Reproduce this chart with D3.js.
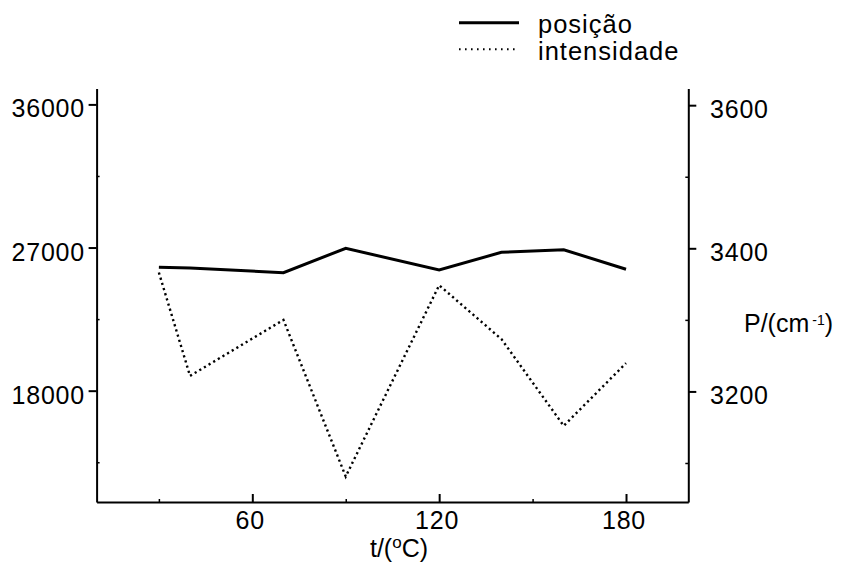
<!DOCTYPE html>
<html>
<head>
<meta charset="utf-8">
<script src="https://cdn.jsdelivr.net/npm/d3@7"></script>
<style>
  html, body { margin: 0; padding: 0; background: #fff; }
  svg { display: block; font-family: "Liberation Sans", Arial, Helvetica, sans-serif; }
</style>
</head>
<body>
<svg id="chart" width="845" height="567"></svg>
<script>
// Temperature (°C) of each measurement
const temperatures = [30, 40, 70, 90, 120, 140, 160, 180];
// Band position, cm^-1 (right axis)
const posicao = [3373.5, 3372.5, 3366, 3400, 3369.7, 3394.4, 3398, 3370.7];
// Band intensity (left axis)
const intensidade = [25430, 18930, 22450, 12600, 24630, 21240, 15790, 19730];

const xTicks = [60, 120, 180];
const xMinorTicks = [30, 90, 150];
const leftTicks = [18000, 27000, 36000];
const leftMinorTicks = [13500, 22500, 31500];
const rightTicks = [3200, 3400, 3600];
const rightMinorTicks = [3100, 3300, 3500];

const svg = d3.select("#chart");
const plotLeft = 96.6, plotRight = 688.3, plotTop = 88.5, plotBottom = 502;

const x = d3.scaleLinear().domain([10, 200]).range([plotLeft, plotRight]);
const yL = d3.scaleLinear().domain([11000, 37000]).range([plotBottom, plotTop]);
const yR = d3.scaleLinear().domain([3045.5, 3623.3]).range([plotBottom, plotTop]);

const tickFont = "25px";

function styleAxis(g) {
  g.selectAll("path.domain").attr("stroke", "#000").attr("stroke-width", 2);
  g.selectAll(".tick line").attr("stroke", "#000").attr("stroke-width", 2);
  g.selectAll(".tick text").attr("fill", "#000").style("font-size", tickFont)
    .style("letter-spacing", "0.8px");
}

// Bottom axis: ticks point into the plot
const gx = svg.append("g").attr("transform", `translate(0,${plotBottom})`)
  .call(d3.axisBottom(x).tickValues(xTicks).tickSizeInner(-8).tickSizeOuter(0)
    .tickPadding(9).tickFormat(d3.format("d")));
styleAxis(gx);
gx.selectAll(".tick text").attr("dx", "-0.1em");
svg.append("g").attr("transform", `translate(0,${plotBottom})`)
  .call(d3.axisBottom(x).tickValues(xMinorTicks).tickSize(-3).tickFormat(""))
  .call(g => { g.select("path.domain").remove(); g.selectAll("line").attr("stroke", "#000").attr("stroke-width", 1.5); });

// Left axis (intensity)
const gl = svg.append("g").attr("transform", `translate(${plotLeft},0)`)
  .call(d3.axisLeft(yL).tickValues(leftTicks).tickSizeInner(8).tickSizeOuter(0)
    .tickPadding(3.6).tickFormat(d3.format("d")));
styleAxis(gl);
gl.selectAll(".tick text").attr("dy", "0.5em");
svg.append("g").attr("transform", `translate(${plotLeft},0)`)
  .call(d3.axisLeft(yL).tickValues(leftMinorTicks).tickSize(-3).tickFormat(""))
  .call(g => { g.select("path.domain").remove(); g.selectAll("line").attr("stroke", "#000").attr("stroke-width", 1.5); });

// Right axis (position)
const gr = svg.append("g").attr("transform", `translate(${plotRight},0)`)
  .call(d3.axisRight(yR).tickValues(rightTicks).tickSizeInner(8).tickSizeOuter(0)
    .tickPadding(13.7).tickFormat(d3.format("d")));
styleAxis(gr);
gr.selectAll(".tick text").attr("dy", "0.5em");
svg.append("g").attr("transform", `translate(${plotRight},0)`)
  .call(d3.axisRight(yR).tickValues(rightMinorTicks).tickSize(-3).tickFormat(""))
  .call(g => { g.select("path.domain").remove(); g.selectAll("line").attr("stroke", "#000").attr("stroke-width", 1.5); });

// Series
const linePos = d3.line().x((d, i) => x(temperatures[i])).y(d => yR(d));
const lineInt = d3.line().x((d, i) => x(temperatures[i])).y(d => yL(d));

svg.append("path").datum(posicao).attr("d", linePos)
  .attr("fill", "none").attr("stroke", "#000").attr("stroke-width", 3)
  .attr("stroke-linejoin", "miter");
svg.append("path").datum(intensidade).attr("d", lineInt)
  .attr("fill", "none").attr("stroke", "#000").attr("stroke-width", 2.4)
  .attr("stroke-dasharray", "2.2,3.2");

// Axis titles
const xt = svg.append("text").attr("x", 399).attr("y", 557).attr("text-anchor", "middle")
  .style("font-size", "25px").attr("fill", "#000");
xt.append("tspan").text("t/(");
xt.append("tspan").text("o").style("font-size", "17px").attr("dy", -9);
xt.append("tspan").text("C)").attr("dy", 9);

const yt = svg.append("text").attr("x", 744).attr("y", 332)
  .style("font-size", "25px").attr("fill", "#000");
yt.append("tspan").text("P/(cm");
yt.append("tspan").text("-1").style("font-size", "14px").attr("dx", 3).attr("dy", -7);
yt.append("tspan").text(")").attr("dy", 7);

// Legend
const legend = [
  { label: "posição", dash: null, width: 3, y: 22.7 },
  { label: "intensidade", dash: "1.6,4.4", width: 2, y: 49.3 }
];
const lg = svg.append("g");
legend.forEach(l => {
  lg.append("line").attr("x1", 459).attr("x2", 519).attr("y1", l.y).attr("y2", l.y)
    .attr("stroke", "#000").attr("stroke-width", l.width)
    .attr("stroke-dasharray", l.dash);
  lg.append("text").attr("x", 538).attr("y", l.y + 10.7)
    .style("font-size", "25.5px").style("letter-spacing", "1px")
    .attr("fill", "#000").text(l.label);
});
</script>
</body>
</html>
